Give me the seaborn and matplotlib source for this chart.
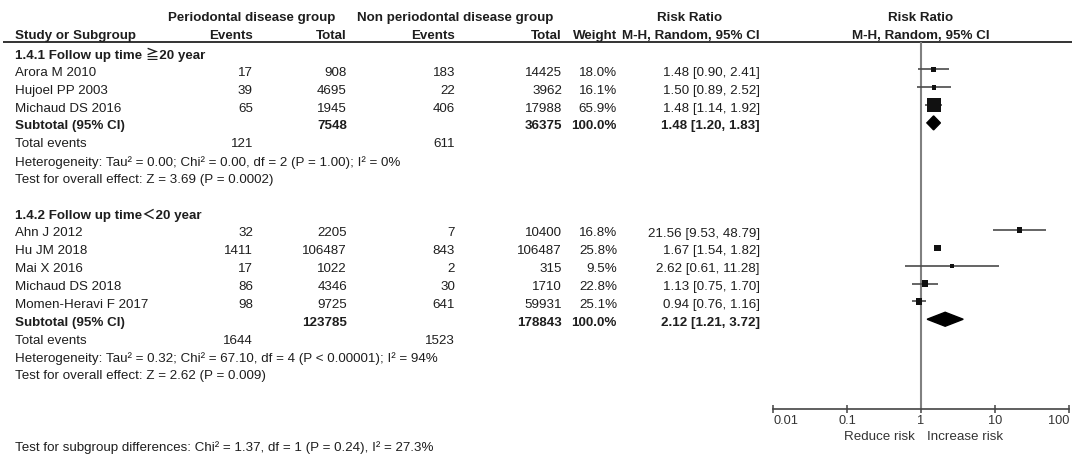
import numpy as np
import matplotlib
matplotlib.use("Agg")
import matplotlib.pyplot as plt
import seaborn as sns
from matplotlib.patches import Polygon

sns.set_theme(style="white")
plt.rcParams["font.family"] = ["Liberation Sans", "Noto Sans CJK SC", "DejaVu Sans"]

# ---- subgroup 1.4.1: follow up time >= 20 years ----
studies_a = ["Arora M 2010", "Hujoel PP 2003", "Michaud DS 2016"]
events_pd_a = [17, 39, 65]
total_pd_a = [908, 4695, 1945]
events_non_a = [183, 22, 406]
total_non_a = [14425, 3962, 17988]
weight_a = [18.0, 16.1, 65.9]
rr_a = [1.48, 1.50, 1.48]
lo_a = [0.90, 0.89, 1.14]
hi_a = [2.41, 2.52, 1.92]
subtotal_a = [1.48, 1.20, 1.83]
sub_n_a = [7548, 36375]
sub_events_a = [121, 611]
title_a = "1.4.1 Follow up time \u226720 year"
het_a = "Heterogeneity: Tau\u00b2 = 0.00; Chi\u00b2 = 0.00, df = 2 (P = 1.00); I\u00b2 = 0%"
eff_a = "Test for overall effect: Z = 3.69 (P = 0.0002)"

# ---- subgroup 1.4.2: follow up time < 20 years ----
studies_b = ["Ahn J 2012", "Hu JM 2018", "Mai X 2016", "Michaud DS 2018",
             "Momen-Heravi F 2017"]
events_pd_b = [32, 1411, 17, 86, 98]
total_pd_b = [2205, 106487, 1022, 4346, 9725]
events_non_b = [7, 843, 2, 30, 641]
total_non_b = [10400, 106487, 315, 1710, 59931]
weight_b = [16.8, 25.8, 9.5, 22.8, 25.1]
rr_b = [21.56, 1.67, 2.62, 1.13, 0.94]
lo_b = [9.53, 1.54, 0.61, 0.75, 0.76]
hi_b = [48.79, 1.82, 11.28, 1.70, 1.16]
subtotal_b = [2.12, 1.21, 3.72]
sub_n_b = [123785, 178843]
sub_events_b = [1644, 1523]
title_b = "1.4.2 Follow up time\uff1c20 year"
het_b = "Heterogeneity: Tau\u00b2 = 0.32; Chi\u00b2 = 67.10, df = 4 (P < 0.00001); I\u00b2 = 94%"
eff_b = "Test for overall effect: Z = 2.62 (P = 0.009)"

subgroup_test = "Test for subgroup differences: Chi\u00b2 = 1.37, df = 1 (P = 0.24), I\u00b2 = 27.3%"
axis_ticks = [0.01, 0.1, 1, 10, 100]
axis_ticklabels = ["0.01", "0.1", "1", "10", "100"]
favours = ["Reduce risk", "Increase risk"]

# ---- layout (figure pixels, origin at top-left) ----
W, H = 1072, 454
FS = 9.6
TXT = "#1e1e1e"
X_NAME = 15
X_EV1, X_TOT1, X_EV2, X_TOT2, X_WT, X_RR = 253, 347, 455, 562, 617, 760
X_FOREST = (773, 1069)
Y_RULE, Y_AXIS = 42, 409
ROW0, STEP = 55.0, 17.85
MARK_SHIFT = -3.5

fig = plt.figure(figsize=(W / 100, H / 100), dpi=100)
tx = fig.add_axes([0, 0, 1, 1])
tx.set_xlim(0, W)
tx.set_ylim(H, 0)
tx.axis("off")


def put(x, y, s, ha="left", bold=False, size=FS, color=TXT):
    tx.text(x, y, s, ha=ha, va="center", fontsize=size, color=color,
            fontweight="bold" if bold else "normal")


def row(i):
    return ROW0 + i * STEP


# column headers
put(252, 18, "Periodontal disease group", ha="center", bold=True)
put(455, 18, "Non periodontal disease group", ha="center", bold=True)
put(690, 18, "Risk Ratio", ha="center", bold=True)
put(921, 18, "Risk Ratio", ha="center", bold=True)
put(X_NAME, 36, "Study or Subgroup", bold=True)
put(X_EV1, 36, "Events", ha="right", bold=True)
put(X_TOT1, 36, "Total", ha="right", bold=True)
put(X_EV2, 36, "Events", ha="right", bold=True)
put(X_TOT2, 36, "Total", ha="right", bold=True)
put(X_WT, 36, "Weight", ha="right", bold=True)
put(X_RR, 36, "M-H, Random, 95% CI", ha="right", bold=True)
put(921, 36, "M-H, Random, 95% CI", ha="center", bold=True)
tx.plot([3, W], [Y_RULE, Y_RULE], color="#333333", lw=1.4, solid_capstyle="butt")

forest_rows = []   # (y, rr, lo, hi, weight)
diamonds = []      # (y, est, lo, hi)


def draw_group(start, title, studies, ev1, n1, ev2, n2, wt, rr, lo, hi,
               sub, sub_n, sub_ev, het, eff):
    put(X_NAME, row(start), title, bold=True)
    for k, name in enumerate(studies):
        y = row(start + 1 + k)
        put(X_NAME, y, name)
        put(X_EV1, y, f"{ev1[k]}", ha="right")
        put(X_TOT1, y, f"{n1[k]}", ha="right")
        put(X_EV2, y, f"{ev2[k]}", ha="right")
        put(X_TOT2, y, f"{n2[k]}", ha="right")
        put(X_WT, y, f"{wt[k]:.1f}%", ha="right")
        put(X_RR, y, f"{rr[k]:.2f} [{lo[k]:.2f}, {hi[k]:.2f}]", ha="right")
        forest_rows.append((y + MARK_SHIFT, rr[k], lo[k], hi[k], wt[k]))
    i = start + 1 + len(studies)
    y = row(i)
    put(X_NAME, y, "Subtotal (95% CI)", bold=True)
    put(X_TOT1, y, f"{sub_n[0]}", ha="right", bold=True)
    put(X_TOT2, y, f"{sub_n[1]}", ha="right", bold=True)
    put(X_WT, y, "100.0%", ha="right", bold=True)
    put(X_RR, y, f"{sub[0]:.2f} [{sub[1]:.2f}, {sub[2]:.2f}]", ha="right", bold=True)
    diamonds.append((y + MARK_SHIFT, sub[0], sub[1], sub[2]))
    put(X_NAME, row(i + 1), "Total events")
    put(X_EV1, row(i + 1), f"{sub_ev[0]}", ha="right")
    put(X_EV2, row(i + 1), f"{sub_ev[1]}", ha="right")
    put(X_NAME, row(i + 2), het)
    put(X_NAME, row(i + 3), eff)
    return i + 3


last = draw_group(0, title_a, studies_a, events_pd_a, total_pd_a, events_non_a,
                  total_non_a, weight_a, rr_a, lo_a, hi_a, subtotal_a, sub_n_a,
                  sub_events_a, het_a, eff_a)
draw_group(last + 2, title_b, studies_b, events_pd_b, total_pd_b, events_non_b,
           total_non_b, weight_b, rr_b, lo_b, hi_b, subtotal_b, sub_n_b,
           sub_events_b, het_b, eff_b)

put(X_NAME, 448, subgroup_test)

# ---- forest panel on a log risk-ratio axis ----
fx0, fx1 = X_FOREST
ax = fig.add_axes([fx0 / W, (H - Y_AXIS) / H, (fx1 - fx0) / W, (Y_AXIS - Y_RULE) / H])
ax.set_facecolor("none")
ax.set_xscale("log")
ax.set_xlim(axis_ticks[0], axis_ticks[-1])
ax.set_ylim(Y_AXIS, Y_RULE)
for side in ("top", "left", "right"):
    ax.spines[side].set_visible(False)
ax.spines["bottom"].set_color("#444444")
ax.spines["bottom"].set_linewidth(1.2)
ax.set_yticks([])
ax.set_xticks(axis_ticks)
ax.set_xticklabels(axis_ticklabels)
ax.minorticks_off()
ax.tick_params(axis="x", direction="inout", length=6, width=1.1, color="#444444",
               labelsize=9.2, labelcolor="#333333", pad=1.5, bottom=True)
labels = ax.get_xticklabels()
labels[0].set_ha("left")
labels[-1].set_ha("right")
ax.grid(False)

ax.axvline(1, color="#808080", lw=1.5, zorder=1)

ys = np.array([r[0] for r in forest_rows])
est = np.array([r[1] for r in forest_rows])
los = np.array([r[2] for r in forest_rows])
his = np.array([r[3] for r in forest_rows])
wts = np.array([r[4] for r in forest_rows])
ax.hlines(ys, los, his, color="#4a4a4a", lw=1.2, zorder=2)
side_px = 2.0 + 0.18 * wts
sns.scatterplot(x=est, y=ys, marker="s", s=(side_px * 0.72) ** 2, color="#111111",
                linewidth=0, legend=False, ax=ax, zorder=3)
ax.set_xlim(axis_ticks[0], axis_ticks[-1])
ax.set_ylim(Y_AXIS, Y_RULE)
ax.set_xlabel("")
ax.set_ylabel("")

for y, e, lo, hi in diamonds:
    h = 14
    ax.add_patch(Polygon([(lo, y), (e, y - h / 2), (hi, y), (e, y + h / 2)],
                         closed=True, color="#000000", zorder=4))

put(915, 437, favours[0], ha="right", color="#333333")
put(927, 437, favours[1], ha="left", color="#333333")

fig.savefig("out.png", dpi=100)
